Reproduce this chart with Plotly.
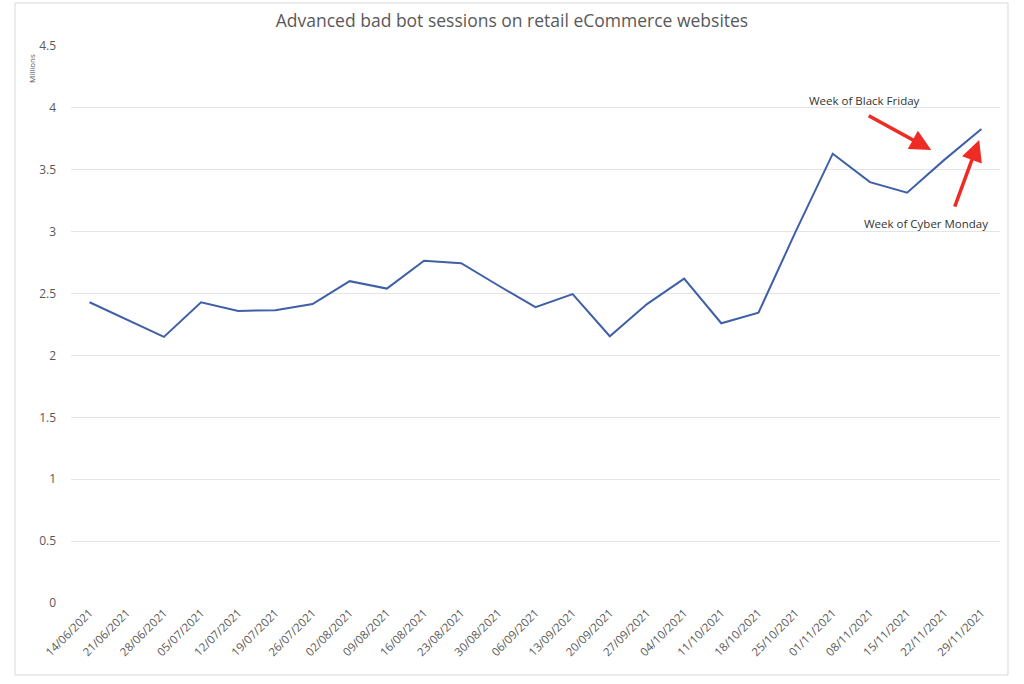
import plotly.graph_objects as go

weeks = ["14/06/2021", "21/06/2021", "28/06/2021", "05/07/2021", "12/07/2021",
         "19/07/2021", "26/07/2021", "02/08/2021", "09/08/2021", "16/08/2021",
         "23/08/2021", "30/08/2021", "06/09/2021", "13/09/2021", "20/09/2021",
         "27/09/2021", "04/10/2021", "11/10/2021", "18/10/2021", "25/10/2021",
         "01/11/2021", "08/11/2021", "15/11/2021", "22/11/2021", "29/11/2021"]
sessions_millions = [2.43, 2.29, 2.15, 2.43, 2.36, 2.365, 2.415, 2.60, 2.54, 2.765,
                     2.745, 2.565, 2.39, 2.495, 2.155, 2.415, 2.62, 2.26, 2.345, 3.0,
                     3.63, 3.40, 3.315, 3.58, 3.83]
y_ticks = [0, 0.5, 1, 1.5, 2, 2.5, 3, 3.5, 4, 4.5]

FONT = "Open Sans"
GRAY = "#595959"

fig = go.Figure()
fig.add_trace(go.Scatter(
    x=list(range(len(weeks))), y=sessions_millions, mode="lines",
    line=dict(color="#3F5FA6", width=2), hoverinfo="skip", showlegend=False,
))

def px(x):
    return (x - 71) / 929

def py(y):
    return (603 - y) / 557

fig.update_layout(
    width=1024, height=684,
    margin=dict(l=71, r=24, t=46, b=81),
    paper_bgcolor="white", plot_bgcolor="white",
    title=dict(text="Advanced bad bot sessions on retail eCommerce websites",
               x=0.5, xanchor="center", y=0.97, yanchor="middle",
               font=dict(family=FONT, size=17.5, color=GRAY)),
    font=dict(family=FONT, color=GRAY),
    xaxis=dict(
        tickmode="array", tickvals=list(range(len(weeks))), ticktext=weeks,
        range=[-0.5, len(weeks) - 0.5], tickangle=-45,
        tickfont=dict(family=FONT, size=11.5, color=GRAY),
        showgrid=False, zeroline=False, showline=False, ticks="",
        fixedrange=True,
    ),
    yaxis=dict(
        range=[0, 4.5], tickvals=y_ticks,
        ticktext=[f"{v:g}" for v in y_ticks],
        tickfont=dict(family=FONT, size=12, color=GRAY),
        showgrid=True, gridcolor="#E4E4E4", gridwidth=1,
        zeroline=False, showline=False, ticks="", ticklabelstandoff=14,
        fixedrange=True,
    ),
    shapes=[dict(type="rect", xref="paper", yref="paper",
                 x0=px(15), x1=px(1008), y0=py(675), y1=py(3),
                 line=dict(color="#D9D9D9", width=1), fillcolor="rgba(0,0,0,0)",
                 layer="below")],
    annotations=[
        dict(text="Millions", xref="paper", yref="paper",
             x=px(32), y=py(69), xanchor="center", yanchor="middle",
             showarrow=False, textangle=-90,
             font=dict(family=FONT, size=8, color=GRAY)),
        dict(text="Week of Black Friday", xref="paper", yref="paper",
             x=px(864), y=py(100), xanchor="center", yanchor="middle",
             showarrow=False, font=dict(family=FONT, size=11.5, color="#333333")),
        dict(text="Week of Cyber Monday", xref="paper", yref="paper",
             x=px(926), y=py(223), xanchor="center", yanchor="middle",
             showarrow=False, font=dict(family=FONT, size=11.5, color="#333333")),
        dict(text="", x=22.65, y=3.66, xref="x", yref="y", showarrow=True,
             ax=-64, ay=-35, arrowhead=2, arrowsize=1.2, arrowwidth=3.5,
             arrowcolor="#EE2B24", standoff=0),
        dict(text="", x=23.94, y=3.74, xref="x", yref="y", showarrow=True,
             ax=-25, ay=68, arrowhead=2, arrowsize=1.2, arrowwidth=3.5,
             arrowcolor="#EE2B24", standoff=0),
    ],
)

fig.write_html("out.html")
